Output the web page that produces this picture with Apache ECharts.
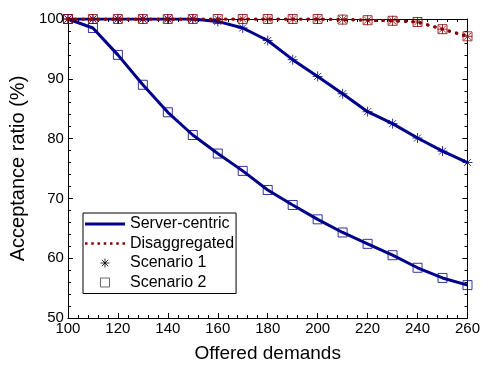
<!DOCTYPE html>
<html>
<head>
<meta charset="utf-8">
<script src="https://cdn.jsdelivr.net/npm/echarts@6/dist/echarts.min.js"></script>
<style>
html,body{margin:0;padding:0;background:#fff;}
#chart{width:483px;height:368px;}
</style>
</head>
<body>
<div id="chart"></div>
<script>
// ---- data ----
const demands = [100,110,120,130,140,150,160,170,180,190,200,210,220,230,240,250,260];
const serverScenario1 = [100,100,100,100,100,100,99.6,98.5,96.4,93.2,90.4,87.5,84.5,82.5,80.1,77.9,76.0];
const serverScenario2 = [100,98.5,94.0,89.0,84.4,80.6,77.5,74.6,71.4,68.9,66.5,64.3,62.4,60.5,58.4,56.7,55.5];
const disaggScenario1 = [100,100,100,100,100,100,100,100,100,100,100,99.9,99.8,99.7,99.5,98.3,97.1];
const disaggScenario2 = [100,100,100,100,100,100,100,100,100,100,100,99.9,99.8,99.7,99.5,98.3,97.1];
const xTicks = [100,120,140,160,180,200,220,240,260];
const yTicks = [50,60,70,80,90,100];
const legendNames = ['Server-centric','Disaggregated','Scenario 1','Scenario 2'];

function pairs(ys){ return demands.map((x,i)=>[x, ys[i]]); }

const BLUE = '#00008B';
const RED = '#8B0000';
const FONT = 'Liberation Sans, Arial, sans-serif';
const ASTERISK = 'path://M0,-5L0,5M-5,0L5,0M-3.54,-3.54L3.54,3.54M-3.54,3.54L3.54,-3.54';
const CLEAR = 'rgba(0,0,0,0)';
// legend sample icons (40 x 3 boxes)
const SOLID_ICON = 'path://M0,0L40,0L40,3L0,3Z';
let dots = '';
for (let k = 0; k < 7; k++) { const x0 = (k * 37.5 / 6).toFixed(2); dots += 'M' + x0 + ',0.25h2.5v2.5h-2.5Z'; }
const DOTTED_ICON = 'path://M0,0L0.01,0M40,3L39.99,3' + dots.replace(/^/, '');
const SQUARE_ICON = 'path://M0,0L10,0L10,10L0,10Z';

const chart = echarts.init(document.getElementById('chart'), null, {renderer:'canvas'});

function xAxisDef(pos, labels){
  return {
    type:'value', position:pos, min:xTicks[0], max:xTicks[xTicks.length-1], interval:20,
    axisLine:{show:true, onZero:false, lineStyle:{color:'#000', width:1}},
    axisTick:{show:true, inside:true, length:5, lineStyle:{color:'#000'}},
    minorTick:{show:true, splitNumber:5, length:3, lineStyle:{color:'#000'}},
    splitLine:{show:false},
    axisLabel:{show:labels, color:'#000', fontSize:15, fontFamily:FONT, margin:3},
    name: labels ? 'Offered demands' : '',
    nameLocation:'middle', nameGap:26,
    nameTextStyle:{color:'#000', fontSize:19, fontFamily:FONT}
  };
}
function yAxisDef(pos, labels){
  return {
    type:'value', position:pos, min:yTicks[0], max:yTicks[yTicks.length-1], interval:10,
    axisLine:{show:true, onZero:false, lineStyle:{color:'#000', width:1}},
    axisTick:{show:true, inside:true, length:5, lineStyle:{color:'#000'}},
    minorTick:{show:true, splitNumber:5, length:3, lineStyle:{color:'#000'}},
    splitLine:{show:false},
    axisLabel:{show:labels, color:'#000', fontSize:15, fontFamily:FONT, margin:4},
    name: labels ? 'Acceptance ratio (%)' : '',
    nameLocation:'middle', nameGap:34, nameRotate:90,
    nameTextStyle:{color:'#000', fontSize:20, fontFamily:FONT}
  };
}

const option = {
  backgroundColor:'#fff',
  animation:false,
  grid:{left:66, right:11, top:19, bottom:47, containLabel:false},
  xAxis:[xAxisDef('bottom', true), xAxisDef('top', false)],
  yAxis:[yAxisDef('left', true), yAxisDef('right', false)],
  legend:{
    data:[
      {name:legendNames[0], icon:SOLID_ICON, itemStyle:{color:BLUE, borderWidth:0}},
      {name:legendNames[1], icon:'path://' + dots, itemStyle:{color:RED, borderWidth:0}},
      {name:legendNames[2], icon:ASTERISK, itemStyle:{color:CLEAR, borderColor:'#000', borderWidth:1}},
      {name:legendNames[3], icon:SQUARE_ICON, itemStyle:{color:CLEAR, borderColor:'#444', borderWidth:1}}
    ],
    orient:'vertical', left:83, top:213,
    itemWidth:40, itemHeight:9, itemGap:3.5,
    symbolKeepAspect:true,
    padding:[3,2,3,2],
    borderColor:'#000', borderWidth:1, backgroundColor:'#fff',
    textStyle:{color:'#000', fontSize:16, fontFamily:FONT},
    selectedMode:false
  },
  series:[
    // Server-centric markers
    {name:'sc-s2-m', type:'scatter', data:pairs(serverScenario2), symbol:'rect', symbolSize:9,
     itemStyle:{color:CLEAR, borderColor:BLUE, borderWidth:1}, z:2},
    {name:'sc-s1-m', type:'scatter', data:pairs(serverScenario1), symbol:ASTERISK, symbolSize:10,
     itemStyle:{color:CLEAR, borderColor:BLUE, borderWidth:1}, z:2},
    // Server-centric lines
    {name:'Server-centric', type:'line', data:pairs(serverScenario1), symbol:'none',
     lineStyle:{color:BLUE, width:3}, itemStyle:{color:BLUE}, z:3},
    {name:'sc-s2-line', type:'line', data:pairs(serverScenario2), symbol:'none',
     lineStyle:{color:BLUE, width:3}, itemStyle:{color:BLUE}, z:3},
    // Disaggregated lines
    {name:'Disaggregated', type:'line', data:pairs(disaggScenario1), symbol:'none',
     lineStyle:{color:RED, width:3, type:[0.5,7], cap:'round'}, itemStyle:{color:RED}, z:4},
    {name:'da-s2-line', type:'line', data:pairs(disaggScenario2), symbol:'none',
     lineStyle:{color:RED, width:3, type:[0.5,7], cap:'round'}, itemStyle:{color:RED}, z:4},
    // Disaggregated markers
    {name:'da-s2-m', type:'scatter', data:pairs(disaggScenario2), symbol:'rect', symbolSize:9,
     itemStyle:{color:CLEAR, borderColor:RED, borderWidth:1}, z:5},
    {name:'da-s1-m', type:'scatter', data:pairs(disaggScenario1), symbol:ASTERISK, symbolSize:10,
     itemStyle:{color:CLEAR, borderColor:RED, borderWidth:1}, z:5},
    // Legend-only entries
    {name:'Scenario 1', type:'scatter', data:[], symbol:ASTERISK, symbolSize:9,
     itemStyle:{color:CLEAR, borderColor:'#000', borderWidth:1}},
    {name:'Scenario 2', type:'scatter', data:[], symbol:'rect', symbolSize:8,
     itemStyle:{color:CLEAR, borderColor:'#444', borderWidth:1}}
  ]
};
chart.setOption(option);
</script>
</body>
</html>
